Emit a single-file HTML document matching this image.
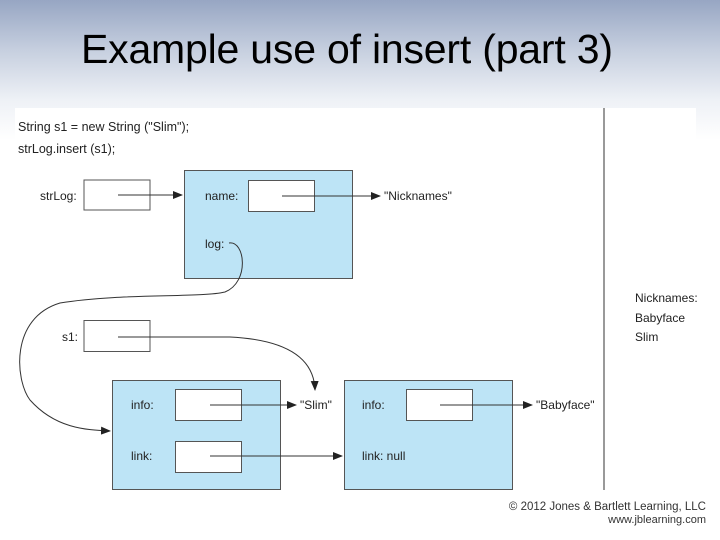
<!DOCTYPE html>
<html><head><meta charset="utf-8"><style>
html,body{margin:0;padding:0}
body{width:720px;height:540px;overflow:hidden;position:relative;background:linear-gradient(#97a6c3 0px,#c6cfdf 50px,#eef1f6 100px,#fff 140px);font-family:"Liberation Sans",sans-serif}
.t{position:absolute;left:81px;top:26px;font-size:41px;color:#000;letter-spacing:-0.2px}
svg{position:absolute;left:0;top:0}
</style></head><body>
<div class="t">Example use of insert (part 3)</div>
<svg width="720" height="540" viewBox="0 0 720 540" font-family="Liberation Sans, sans-serif" font-size="12" fill="#222">
<defs><marker id="a" markerWidth="10" markerHeight="8" refX="9" refY="4" orient="auto" markerUnits="userSpaceOnUse"><path d="M0,0 L10,4 L0,8 Z" fill="#222"/></marker></defs>
<rect x="15" y="108" width="681" height="432" fill="#fff"/>
<line x1="604" y1="108" x2="604" y2="490" stroke="#333" stroke-width="1"/>
<text x="18" y="131" font-size="12.5">String s1 = new String ("Slim");</text>
<text x="18" y="153" font-size="12.5">strLog.insert (s1);</text>
<text x="40" y="200">strLog:</text>
<rect x="84" y="180" width="66" height="30" fill="#fff" stroke="#555"/>
<rect x="184.5" y="170.5" width="168" height="108" fill="#bde4f6" stroke="#555"/>
<rect x="248.5" y="180.5" width="66" height="31" fill="#fff" stroke="#555"/>
<text x="205" y="200">name:</text>
<text x="205" y="248">log:</text>
<line x1="118" y1="195" x2="182" y2="195" stroke="#333" marker-end="url(#a)"/>
<line x1="282" y1="196" x2="380" y2="196" stroke="#333" marker-end="url(#a)"/>
<text x="384" y="200">"Nicknames"</text>
<text x="62" y="341">s1:</text>
<rect x="84" y="320.5" width="66" height="31" fill="#fff" stroke="#555"/>
<rect x="112.5" y="380.5" width="168" height="109" fill="#bde4f6" stroke="#555"/>
<rect x="175.5" y="389.5" width="66" height="31" fill="#fff" stroke="#555"/>
<rect x="175.5" y="441.5" width="66" height="31" fill="#fff" stroke="#555"/>
<text x="131" y="409">info:</text>
<text x="131" y="460">link:</text>
<rect x="344.5" y="380.5" width="168" height="109" fill="#bde4f6" stroke="#555"/>
<rect x="406.5" y="389.5" width="66" height="31" fill="#fff" stroke="#555"/>
<text x="362" y="409">info:</text>
<text x="362" y="460">link: null</text>
<line x1="210" y1="405" x2="296" y2="405" stroke="#333" marker-end="url(#a)"/>
<text x="300" y="409">"Slim"</text>
<line x1="210" y1="456" x2="342" y2="456" stroke="#333" marker-end="url(#a)"/>
<line x1="440" y1="405" x2="532" y2="405" stroke="#333" marker-end="url(#a)"/>
<text x="536" y="409">"Babyface"</text>
<path d="M229,243 C245,240 250,282 225,292 C200,298 120,293 60,303 C10,318 15,380 30,400 C55,428 85,430 110,431" fill="none" stroke="#333" marker-end="url(#a)"/>
<path d="M118,337 L230,337 C290,340 314,360 315,390" fill="none" stroke="#333" marker-end="url(#a)"/>
<text x="635" y="302">Nicknames:</text>
<text x="635" y="322">Babyface</text>
<text x="635" y="341">Slim</text>
<text x="706" y="510" text-anchor="end" font-size="11.5" fill="#333">© 2012 Jones &amp; Bartlett Learning, LLC</text>
<text x="706" y="523" text-anchor="end" font-size="11" fill="#333">www.jblearning.com</text>
</svg>
</body></html>
